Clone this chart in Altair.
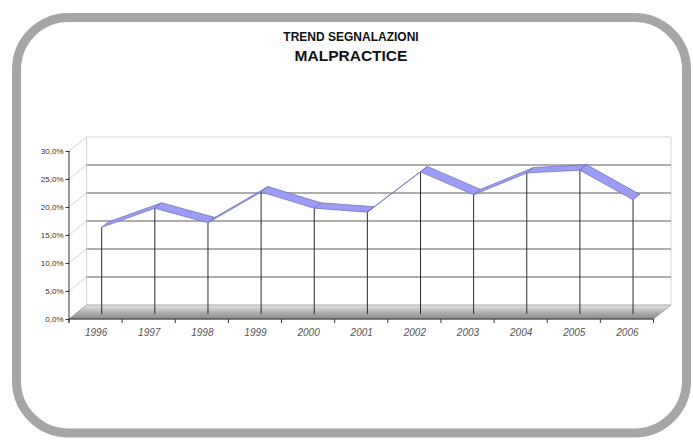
import altair as alt
import pandas as pd

# Yearly share of malpractice reports (%)
years = ["1996", "1997", "1998", "1999", "2000", "2001",
         "2002", "2003", "2004", "2005", "2006"]
share = [15.5, 18.9, 16.3, 21.8, 18.9, 18.2, 25.4, 21.3, 25.2, 25.7, 20.4]
y_ticks = [0, 5, 10, 15, 20, 25, 30]
title_lines = ["TREND SEGNALAZIONI", "MALPRACTICE"]

# Plot box and pseudo-3D depth (depth offsets are in data units)
PLOT_W, PLOT_H = 602, 182
N = len(years)
DX, DY = 0.33, 2.5            # full depth of the floor / side wall
F_FRONT, F_BACK = 0.35, 0.74  # depth slice occupied by the ribbon
X_MAX = N + DX
Y_MAX = y_ticks[-1] + DY

xs = alt.Scale(domain=[0, X_MAX], nice=False, zero=False)
ys = alt.Scale(domain=[0, Y_MAX], nice=False, zero=False)

year_expr = "[" + ",".join("'%s'" % y for y in years) + "][floor(datum.value)]"
X_AXIS = alt.Axis(
    values=[i + 0.5 for i in range(N)], labelExpr=year_expr,
    ticks=False, domain=False, grid=False, labelPadding=8,
    labelFont="Liberation Sans", labelFontStyle="italic",
    labelFontSize=10, labelColor="#555555", title=None, zindex=2,
)
Y_AXIS = alt.Axis(
    values=y_ticks,
    labelExpr="replace(format(datum.value, '.1f'), '.', ',') + '%'",
    tickSize=4, tickColor="#333333", domain=False, grid=False,
    labelPadding=2, labelFont="Liberation Sans", labelFontSize=8,
    labelColor="#333333", title=None, zindex=2,
)


def qx(field):
    return alt.X(field, type="quantitative", scale=xs, axis=X_AXIS)


def qy(field):
    return alt.Y(field, type="quantitative", scale=ys, axis=Y_AXIS)


# ---- rounded outer frame -------------------------------------------------
frame = alt.Chart(pd.DataFrame({"k": [0]})).mark_rect(
    fill="transparent", stroke="#a6a6a6", strokeWidth=9, cornerRadius=52
).encode(
    x=alt.value(-52.5), x2=alt.value(617.5),
    y=alt.value(-119.5), y2=alt.value(296),
)

# ---- titles ---------------------------------------------------------------
titles = pd.DataFrame({"t": title_lines, "row": [0, 1]})
title_top = alt.Chart(titles[titles.row == 0]).mark_text(
    font="Liberation Sans", fontWeight="bold", fontSize=12, color="#111"
).encode(text="t:N", x=alt.value(282), y=alt.value(-100))
title_main = alt.Chart(titles[titles.row == 1]).mark_text(
    font="Liberation Sans", fontWeight="bold", fontSize=15.5, color="#111"
).encode(text="t:N", x=alt.value(282), y=alt.value(-81))

# ---- walls -----------------------------------------------------------------
side = pd.DataFrame({
    "x": [0.0] * len(y_ticks), "x2": [DX] * len(y_ticks),
    "y": y_ticks, "y2": [v + DY for v in y_ticks],
})
side_lines = alt.Chart(side).mark_rule(color="#c8c8c8", strokeWidth=0.8).encode(
    x=qx("x"), x2="x2", y=qy("y"), y2="y2"
)

inner = [v for v in y_ticks if 0 < v < y_ticks[-1]]
back = pd.DataFrame({"x": [DX] * len(inner), "x2": [X_MAX] * len(inner),
                     "y": [v + DY for v in inner]})
back_grid = alt.Chart(back).mark_rule(color="#5e5e5e", strokeWidth=1.1).encode(
    x=qx("x"), x2="x2", y=qy("y")
)

edges = pd.DataFrame({
    "x": [DX, X_MAX, DX], "x2": [DX, X_MAX, X_MAX],
    "y": [DY, DY, y_ticks[-1] + DY],
    "y2": [y_ticks[-1] + DY, y_ticks[-1] + DY, y_ticks[-1] + DY],
})
wall_edges = alt.Chart(edges).mark_rule(color="#d4d4d4", strokeWidth=1).encode(
    x=qx("x"), x2="x2", y=qy("y"), y2="y2"
)

# ---- floor -----------------------------------------------------------------
floor = pd.DataFrame({
    "x": [0.0, DX, float(N), X_MAX],
    "lo": [0.0, 0.0, 0.0, DY],
    "hi": [0.0, DY, DY, DY],
})
floor_area = alt.Chart(floor).mark_area(
    color=alt.Gradient(
        gradient="linear", x1=0, y1=0, x2=0, y2=1,
        stops=[alt.GradientStop(color="#e6e6e6", offset=0),
               alt.GradientStop(color="#a8a8a8", offset=0.6),
               alt.GradientStop(color="#8a8a8a", offset=1)],
    ),
    stroke="#9a9a9a", strokeWidth=0.8,
).encode(x=qx("x"), y=qy("lo"), y2="hi")

# ---- drop lines ------------------------------------------------------------
drops = pd.DataFrame({
    "x": [i + 0.5 + F_FRONT * DX for i in range(N)],
    "y": [F_FRONT * DY] * N,
    "y2": [v + F_FRONT * DY for v in share],
})
drop_lines = alt.Chart(drops).mark_rule(color="#2b2b2b", strokeWidth=1).encode(
    x=qx("x"), y=qy("y"), y2="y2"
)

# ---- ribbon (one parallelogram per segment) -------------------------------
ox = (F_BACK - F_FRONT) * DX
oy = (F_BACK - F_FRONT) * DY
rows = []
for i in range(N - 1):
    xa = i + 0.5 + F_FRONT * DX
    xb = i + 1.5 + F_FRONT * DX
    ya = share[i] + F_FRONT * DY
    yb = share[i + 1] + F_FRONT * DY
    s = (yb - ya) / (xb - xa)
    rows += [
        {"seg": i, "x": xa, "lo": ya, "hi": ya},
        {"seg": i, "x": xa + ox, "lo": ya + s * ox, "hi": ya + oy},
        {"seg": i, "x": xb, "lo": yb, "hi": yb + oy - s * ox},
        {"seg": i, "x": xb + ox, "lo": yb + oy, "hi": yb + oy},
    ]
ribbon = alt.Chart(pd.DataFrame(rows)).mark_area(
    color="#9c9cf4", stroke="#6c6cb8", strokeWidth=0.7
).encode(
    x=qx("x"), y=qy("lo"), y2="hi", detail="seg:N"
)

# ---- front axes --------------------------------------------------------------
axis_frame = pd.DataFrame({"x": [0.0, 0.0], "x2": [0.0, float(N)],
                           "y": [-0.7, 0.0], "y2": [float(y_ticks[-1]), 0.0]})
axis_lines = alt.Chart(axis_frame).mark_rule(color="#333333", strokeWidth=1).encode(
    x=qx("x"), x2="x2", y=qy("y"), y2="y2"
)

bounds = pd.DataFrame({"x": [float(b) for b in range(N + 1)]})
x_ticks = alt.Chart(bounds).mark_rule(color="#333333", strokeWidth=1).encode(
    x=qx("x"), y=alt.value(PLOT_H), y2=alt.value(PLOT_H + 4)
)

chart = alt.layer(
    frame, title_top, title_main,
    side_lines, wall_edges, back_grid, floor_area,
    drop_lines, ribbon, axis_lines, x_ticks,
).properties(
    width=PLOT_W, height=PLOT_H,
    padding={"left": 69, "top": 137, "right": 22, "bottom": 122},
    autosize=alt.AutoSizeParams(type="none"),
    background="white",
).configure_view(stroke=None)

chart.save("out.html", embed_options={"renderer": "svg", "actions": False})
